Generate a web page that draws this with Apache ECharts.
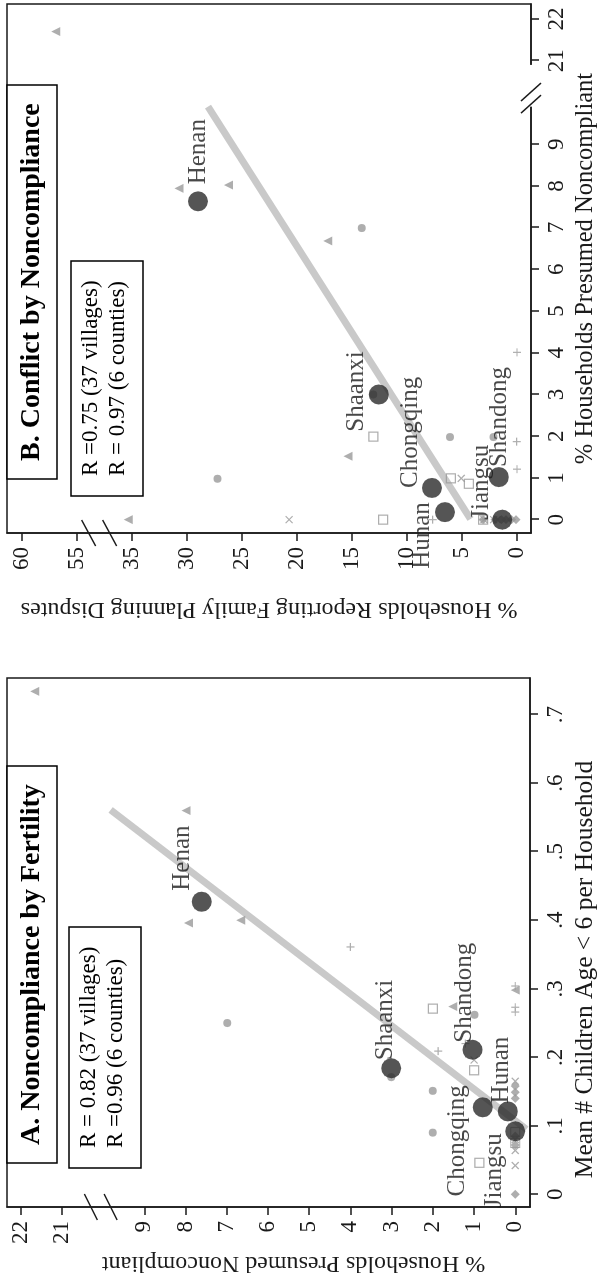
<!DOCTYPE html>
<html>
<head>
<meta charset="utf-8">
<script src="https://cdn.jsdelivr.net/npm/echarts@6/dist/echarts.min.js"></script>
<style>
  html, body { margin: 0; padding: 0; background: #fff; overflow: hidden; }
  #wrap { position: absolute; left: 0; top: 0; width: 603px; height: 1283px; overflow: hidden; }
  /* the figure is landscape, turned a quarter turn to fit the page */
  #chart { position: absolute; left: 0; top: 0; width: 1283px; height: 603px;
           transform-origin: 0 0; transform: translate(0, 1283px) rotate(-90deg); }
</style>
</head>
<body>
<div id="wrap"><div id="chart"></div></div>
<script>
// county order is the same in both panels
const counties = ["Henan", "Shaanxi", "Shandong", "Chongqing", "Hunan", "Jiangsu"];

// panel A: x = mean # children age < 6, y = % presumed noncompliant
const aCountyX = [0.427, 0.184, 0.211, 0.127, 0.121, 0.092];
const aCountyY = [7.61, 3.01, 1.04, 0.79, 0.18, 0.0];
const aHenan = [[0.734, 21.66], [0.560, 7.99], [0.396, 7.93], [0.400, 6.66], [0.274, 1.52], [0.298, 0]];
const aShaanxi = [[0.250, 6.99], [0.262, 0.99], [0.171, 3.01], [0.151, 2.0], [0.090, 2.0]];
const aChongqing = [[0.271, 2.0], [0.181, 1.0], [0.046, 0.87], [0.075, 0], [0.091, 0]];
const aShandong = [[0.361, 4.0], [0.209, 1.87], [0.220, 1.21], [0.266, 0], [0.273, 0], [0.304, 0]];
const aHunan = [[0.196, 1.0], [0.042, 0], [0.064, 0], [0.165, 0], [0.080, 0]];
const aJiangsu = [[0.0, 0], [0.072, 0], [0.085, 0], [0.140, 0], [0.149, 0], [0.158, 0]];
const aFit = [[0.095, -0.27], [0.561, 9.82]];

// panel B: x = % presumed noncompliant, y = % reporting disputes
const bCountyX = [7.63, 3.0, 1.02, 0.76, 0.18, 0.0];
const bCountyY = [28.97, 12.55, 1.65, 7.73, 6.55, 1.35];
const bHenan = [[21.7, 56.9], [7.94, 30.7], [8.02, 26.2], [6.68, 17.2], [1.52, 15.35], [0, 35.3]];
const bShaanxi = [[6.99, 14.1], [0.98, 27.2], [3.0, 13.05], [1.98, 6.08], [1.98, 2.13]];
const bChongqing = [[1.99, 13.05], [0.99, 6.0], [0.86, 4.37], [0, 12.16], [0, 3.08]];
const bShandong = [[4.01, 0], [1.87, 0.03], [1.21, 0], [0, 7.66], [0, 3.0], [0, 0.5]];
const bHunan = [[0.99, 5.06], [0, 20.7], [0, 2.13], [0, 3.0], [0, 1.8]];
const bJiangsu = [[0, 3.08], [0, 0.99], [0, 0.09], [0, 2.0], [0, 0.5], [0, 1.4]];
const bFit = [[0.016, 4.22], [9.9, 28.07]];

// tick labels
const aXTicks = [0, 0.1, 0.2, 0.3, 0.4, 0.5, 0.6, 0.7];
const aYTicks = [0, 1, 2, 3, 4, 5, 6, 7, 8, 9, 21, 22];
const bXTicks = [0, 1, 2, 3, 4, 5, 6, 7, 8, 9, 21, 22];
const bYTicks = [0, 5, 10, 15, 20, 25, 30, 35, 55, 60];

// broken axes: 21,22 drawn at 11,12 ; 55,60 drawn at 40,45
const brkNon = v => (v > 10 ? v - 10 : v);
const brkDisp = v => (v > 40 ? v - 15 : v);
const same = v => v;

const FONT = "'Liberation Serif', 'DejaVu Serif', serif";
const INK = "#1a1a1a";
const GREY = "#9a9a9a";

const chart = echarts.init(document.getElementById("chart"));

function tickLabel(ticks, tf, fmt) {
  const shown = ticks.map(tf);
  return v => {
    const i = shown.findIndex(s => Math.abs(s - v) < 1e-6);
    const t = i < 0 ? v : ticks[i];
    return fmt ? fmt(t) : String(t);
  };
}

function axis(ticks, tf, min, max, name, gap, nameSize, fmt, pad) {
  return {
    type: "value", min: min, max: max,
    name: name, nameLocation: "middle", nameGap: gap,
    nameTextStyle: { fontFamily: FONT, fontSize: nameSize, color: INK, padding: pad || 0 },
    axisLine: { onZero: false, lineStyle: { color: INK, width: 1.5 } },
    axisTick: { customValues: ticks.map(tf), length: 8, lineStyle: { color: INK, width: 1.5 } },
    axisLabel: { customValues: ticks.map(tf), margin: 14, fontFamily: FONT, fontSize: 23, color: INK,
                 formatter: tickLabel(ticks, tf, fmt) },
    splitLine: { show: false }
  };
}

const decimal = t => (t === 0 ? "0" : String(t).replace(/^0/, ""));

const hollow = { color: "rgba(0,0,0,0)", borderColor: GREY, borderWidth: 1.2 };
const solid = { color: GREY };
const PLUS = "path://M5,0L5,10M0,5L10,5";
const CROSS = "path://M0,0L10,10M10,0L0,10";

function villages(idx, data, fx, fy, symbol, size, style) {
  return {
    type: "scatter", xAxisIndex: idx, yAxisIndex: idx, z: 3,
    symbol: symbol, symbolSize: size, itemStyle: style, silent: true,
    data: data.map(p => [fx(p[0]), fy(p[1])])
  };
}

function fit(idx, data, fx, fy) {
  return {
    type: "line", xAxisIndex: idx, yAxisIndex: idx, z: 2, symbol: "none", silent: true,
    lineStyle: { color: "#c9c9c9", width: 7, cap: "butt" },
    data: data.map(p => [fx(p[0]), fy(p[1])])
  };
}

// label placement per county: [dx, dy, align] from the marker centre
const aLab = [[11, -19, "left"], [8, -6, "left"], [7, -8, "left"], [22, -25, "right"], [8, -6, "left"], [-2, -21, "right"]];
const bLab = [[17, 0, "left"], [3, -22, "center"], [10, 1, "left"], [0, -21, "left"], [10, -22, "right"], [0, -21, "left"]];

function countySeries(idx, xs, ys, fx, fy, lab) {
  return {
    type: "scatter", xAxisIndex: idx, yAxisIndex: idx, z: 5, silent: true,
    symbol: "circle", symbolSize: 20, itemStyle: { color: "#2b2b2b" },
    data: counties.map((c, i) => ({
      value: [fx(xs[i]), fy(ys[i])], name: c,
      label: {
        show: true, formatter: c, position: [lab[i][0] + 10, lab[i][1] + 10],
        align: lab[i][2], verticalAlign: "middle",
        fontFamily: FONT, fontSize: 25, color: INK
      }
    }))
  };
}

const boxText = (sz, bold) => ({ fontFamily: FONT, fontSize: sz, color: "#000", fontWeight: bold ? "bold" : "normal", lineHeight: bold ? sz : 26.5 });

chart.setOption({
  animation: false,
  backgroundColor: "#fff",
  title: [
    { text: "A. Noncompliance by Fertility", left: 120, top: 7, padding: [11, 18, 11, 18],
      borderColor: "#000", borderWidth: 1.5, backgroundColor: "#fff", textStyle: boxText(28, true) },
    { text: "R = 0.82 (37 villages)\nR =0.96 (6 counties)", left: 115, top: 69, padding: [7, 20, 12, 20],
      borderColor: "#000", borderWidth: 1.5, backgroundColor: "#fff", textStyle: boxText(23, false) },
    { text: "B. Conflict by Noncompliance", left: 804, top: 7, padding: [11, 18, 11, 18],
      borderColor: "#000", borderWidth: 1.5, backgroundColor: "#fff", textStyle: boxText(28, true) },
    { text: "R =0.75 (37 villages)\nR = 0.97 (6 counties)", left: 787, top: 71, padding: [7, 20, 12, 20],
      borderColor: "#000", borderWidth: 1.5, backgroundColor: "#fff", textStyle: boxText(23, false) }
  ],
  grid: [
    { left: 76, right: 678, top: 7, bottom: 66, show: true, borderColor: INK, borderWidth: 1.5 },
    { left: 750, right: 4, top: 7, bottom: 65, show: true, borderColor: INK, borderWidth: 1.5 }
  ],
  xAxis: [
    Object.assign(axis(aXTicks, same, -0.0185, 0.7535, "Mean # Children Age < 6 per Household", 39, 25.5, decimal, [0, 54, 0, 0]), { gridIndex: 0 }),
    Object.assign(axis(bXTicks, brkNon, -0.32, 12.36, "% Households Presumed Noncompliant", 39, 24.5), { gridIndex: 1 })
  ],
  yAxis: [
    Object.assign(axis(aYTicks, brkNon, -0.36, 12.335, "% Households Presumed Noncompliant", 44, 24, null, [0, 50, 0, 0]), { gridIndex: 0 }),
    Object.assign(axis(bYTicks, brkDisp, -1.28, 46.32, "% Households Reporting Family Planning Disputes", 64, 24), { gridIndex: 1 })
  ],
  series: [
    fit(0, aFit, same, brkNon),
    villages(0, aHenan, same, brkNon, "triangle", 9, solid),
    villages(0, aShaanxi, same, brkNon, "circle", 8, solid),
    villages(0, aChongqing, same, brkNon, "rect", 9, hollow),
    villages(0, aShandong, same, brkNon, PLUS, 8, hollow),
    villages(0, aHunan, same, brkNon, CROSS, 7, hollow),
    villages(0, aJiangsu, same, brkNon, "diamond", 9, solid),
    countySeries(0, aCountyX, aCountyY, same, brkNon, aLab),
    fit(1, bFit, brkNon, brkDisp),
    villages(1, bHenan, brkNon, brkDisp, "triangle", 9, solid),
    villages(1, bShaanxi, brkNon, brkDisp, "circle", 8, solid),
    villages(1, bChongqing, brkNon, brkDisp, "rect", 9, hollow),
    villages(1, bShandong, brkNon, brkDisp, PLUS, 8, hollow),
    villages(1, bHunan, brkNon, brkDisp, CROSS, 7, hollow),
    villages(1, bJiangsu, brkNon, brkDisp, "diamond", 9, solid),
    countySeries(1, bCountyX, bCountyY, brkNon, brkDisp, bLab)
  ]
});

// break marks on the axes, placed through the axis scales
const px = (i, x, y) => chart.convertToPixel({ xAxisIndex: i, yAxisIndex: i }, [x, y]);
const seg = (x1, y1, x2, y2) => ({ type: "line", z: 20, silent: true,
  shape: { x1: x1, y1: y1, x2: x2, y2: y2 }, style: { stroke: INK, lineWidth: 1.5 } });
const marks = [];
[9.82, 10.3].forEach(v => { const p = px(0, -0.0185, v); marks.push(seg(p[0] + 13, p[1] - 6.5, p[0] - 13, p[1] + 6.5)); });
[37.0, 38.9].forEach(v => { const p = px(1, -0.32, v); marks.push(seg(p[0] + 13, p[1] - 7, p[0] - 13, p[1] + 7)); });
const g0 = px(1, 9.9, -1.28), g1 = px(1, 10.9, -1.28);
marks.push({ type: "rect", z: 19, silent: true, shape: { x: g0[0], y: g0[1] - 3, width: g1[0] - g0[0], height: 6 }, style: { fill: "#fff" } });
[9.96, 10.25].forEach(v => { const p = px(1, v, -1.28); marks.push(seg(p[0] - 9, p[1] - 10, p[0] + 9, p[1] + 10)); });
chart.setOption({ graphic: marks });
</script>
</body>
</html>
